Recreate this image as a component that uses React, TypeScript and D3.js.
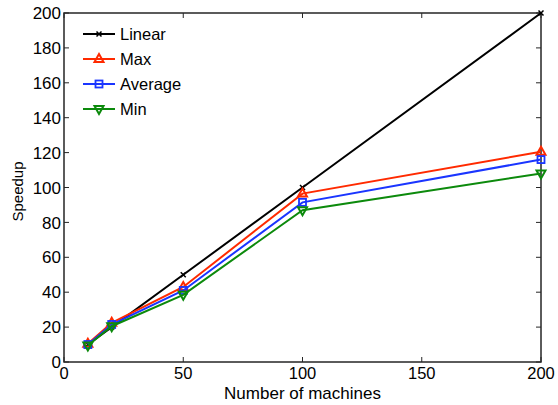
import React, { useEffect, useRef } from "react";
import * as d3 from "d3";

// machines on the x axis
const machines = [10, 20, 50, 100, 200];
const linearSpeedup = [10, 20, 50, 100, 200];
const maxSpeedup = [10.5, 22.5, 43, 96.5, 120.5];
const avgSpeedup = [10, 21.5, 41, 91.5, 116];
const minSpeedup = [9.5, 20.5, 38.5, 87, 108];

const xTicks = [0, 50, 100, 150, 200];
const yTicks = [0, 20, 40, 60, 80, 100, 120, 140, 160, 180, 200];

const seriesList = [
	{ name: "Linear", values: linearSpeedup, color: "#000000", marker: "x" },
	{ name: "Max", values: maxSpeedup, color: "#ff2a00", marker: "up" },
	{ name: "Average", values: avgSpeedup, color: "#1a35ff", marker: "square" },
	{ name: "Min", values: minSpeedup, color: "#0c8a0c", marker: "down" },
];

const App = () => {
	const svgRef = useRef(null);

	useEffect(() => {
		const svg = d3.select(svgRef.current);
		svg.selectAll("*").remove();

		const margin = { top: 13, right: 17, bottom: 43, left: 64 };
		const W = 558;
		const H = 405;
		const width = W - margin.left - margin.right;
		const height = H - margin.top - margin.bottom;
		const font = "'Liberation Sans', Arial, Helvetica, sans-serif";

		const g = svg
			.append("g")
			.attr("transform", `translate(${margin.left},${margin.top})`);

		const x = d3.scaleLinear().domain([0, 200]).range([0, width]);
		const y = d3.scaleLinear().domain([0, 200]).range([height, 0]);

		const axisColor = "#262626";
		const tickLen = 5;

		// box
		g.append("rect")
			.attr("x", 0)
			.attr("y", 0)
			.attr("width", width)
			.attr("height", height)
			.attr("fill", "none")
			.attr("stroke", axisColor)
			.attr("stroke-width", 1.5);

		// inward ticks on all sides
		xTicks.forEach((t) => {
			g.append("line")
				.attr("x1", x(t)).attr("x2", x(t))
				.attr("y1", height).attr("y2", height - tickLen)
				.attr("stroke", axisColor).attr("stroke-width", 1);
			g.append("line")
				.attr("x1", x(t)).attr("x2", x(t))
				.attr("y1", 0).attr("y2", tickLen)
				.attr("stroke", axisColor).attr("stroke-width", 1);
			g.append("text")
				.attr("x", x(t))
				.attr("y", height + 17)
				.attr("text-anchor", "middle")
				.style("font-family", font)
				.style("font-size", "16.5px")
				.attr("fill", "#000")
				.text(t);
		});
		yTicks.forEach((t) => {
			g.append("line")
				.attr("x1", 0).attr("x2", tickLen)
				.attr("y1", y(t)).attr("y2", y(t))
				.attr("stroke", axisColor).attr("stroke-width", 1);
			g.append("line")
				.attr("x1", width).attr("x2", width - tickLen)
				.attr("y1", y(t)).attr("y2", y(t))
				.attr("stroke", axisColor).attr("stroke-width", 1);
			g.append("text")
				.attr("x", -3)
				.attr("y", y(t))
				.attr("dy", "0.36em")
				.attr("text-anchor", "end")
				.style("font-family", font)
				.style("font-size", "17px")
				.attr("fill", "#000")
				.text(t);
		});

		// axis labels
		g.append("text")
			.attr("x", width / 2)
			.attr("y", height + 36.5)
			.attr("text-anchor", "middle")
			.style("font-family", font)
			.style("font-size", "17px")
			.text("Number of machines");
		g.append("text")
			.attr("transform", `translate(${-41},${height / 2 + 4}) rotate(-90)`)
			.attr("text-anchor", "middle")
			.style("font-family", font)
			.style("font-size", "15px")
			.text("Speedup");

		const drawMarker = (sel, kind, color, cx, cy) => {
			const s = 4;
			if (kind === "x") {
				sel.append("path")
					.attr("d", `M${cx - 2.5},${cy - 2.5}L${cx + 2.5},${cy + 2.5}M${cx - 2.5},${cy + 2.5}L${cx + 2.5},${cy - 2.5}`)
					.attr("stroke", color).attr("stroke-width", 1.5).attr("fill", "none");
			} else if (kind === "square") {
				sel.append("rect")
					.attr("x", cx - 3.5).attr("y", cy - 3.5)
					.attr("width", 7).attr("height", 7)
					.attr("fill", "none").attr("stroke", color).attr("stroke-width", 1.8);
			} else if (kind === "up") {
				sel.append("path")
					.attr("d", `M${cx},${cy - s - 1}L${cx + s + 0.5},${cy + s - 1}L${cx - s - 0.5},${cy + s - 1}Z`)
					.attr("fill", "none").attr("stroke", color).attr("stroke-width", 2);
			} else {
				sel.append("path")
					.attr("d", `M${cx},${cy + s + 1}L${cx + s + 0.5},${cy - s + 1}L${cx - s - 0.5},${cy - s + 1}Z`)
					.attr("fill", "none").attr("stroke", color).attr("stroke-width", 2);
			}
		};

		const line = d3
			.line()
			.x((d) => x(d[0]))
			.y((d) => y(d[1]));

		seriesList.forEach((s) => {
			const pts = machines.map((m, i) => [m, s.values[i]]);
			g.append("path")
				.datum(pts)
				.attr("d", line)
				.attr("fill", "none")
				.attr("stroke", s.color)
				.attr("stroke-width", 2);
			pts.forEach((p) => drawMarker(g, s.marker, s.color, x(p[0]), y(p[1])));
		});

		// legend, no box
		const legend = g.append("g").attr("transform", "translate(19,21)");
		seriesList.forEach((s, i) => {
			const ly = i * 25;
			legend.append("line")
				.attr("x1", 0).attr("x2", 32)
				.attr("y1", ly).attr("y2", ly)
				.attr("stroke", s.color).attr("stroke-width", 2);
			drawMarker(legend, s.marker, s.color, 16, ly);
			legend.append("text")
				.attr("x", 37)
				.attr("y", ly)
				.attr("dy", "0.36em")
				.style("font-family", font)
				.style("font-size", "16.5px")
				.text(s.name);
		});
	}, []);

	return (
		<svg
			ref={svgRef}
			width={558}
			height={405}
			style={{ position: "absolute", left: 0, top: 0, background: "#fff" }}
		></svg>
	);
};

export default App;
